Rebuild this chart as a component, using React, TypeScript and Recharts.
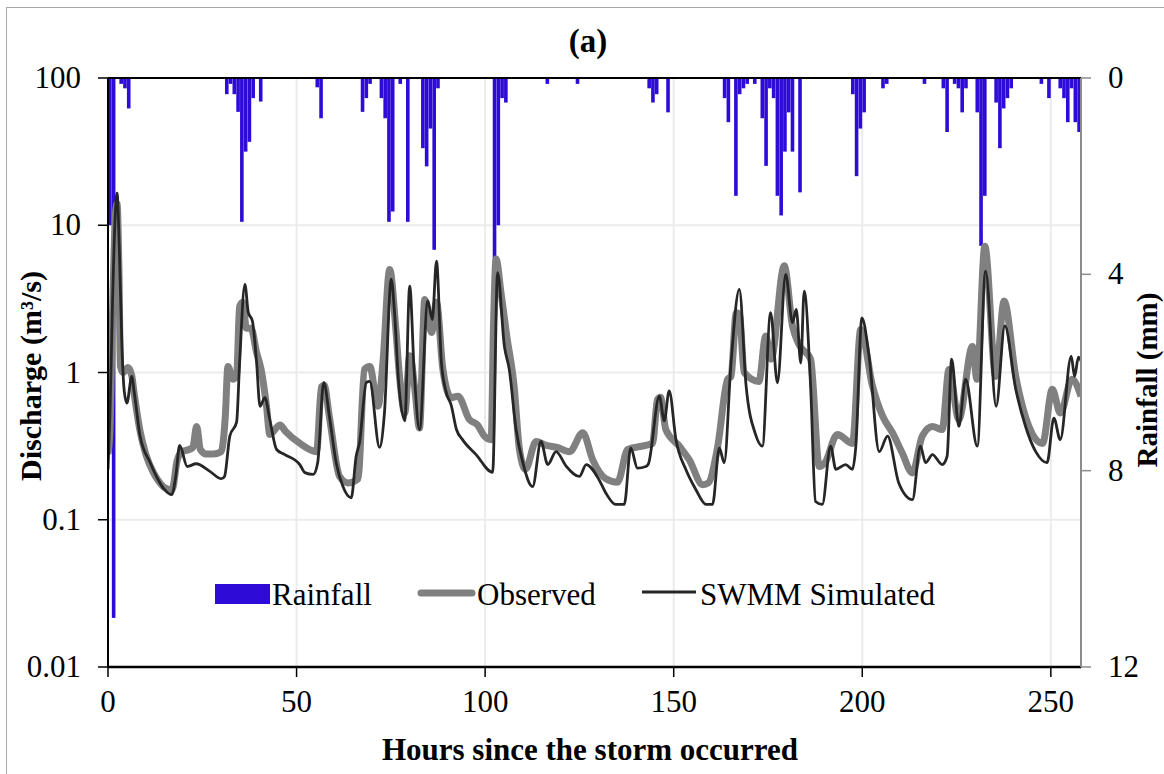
import React from 'react';
import { ComposedChart, Bar, Line, XAxis, YAxis, CartesianGrid, ReferenceLine } from 'recharts';

// Rainfall (mm) per hour interval starting at hour h
const rainHours = [0, 1, 3, 4, 5, 31, 32, 33, 34, 35, 36, 37, 38, 40, 55, 56, 67, 68, 69, 72, 73, 74, 75, 77, 79, 83, 84, 85, 86, 87, 102, 103, 104, 105, 116, 124, 143, 144, 145, 148, 163, 164, 166, 167, 168, 169, 171, 173, 174, 175, 176, 177, 178, 179, 180, 181, 183, 197, 198, 199, 200, 205, 206, 216, 221, 222, 224, 225, 226, 227, 230, 231, 232, 235, 236, 237, 238, 239, 247, 249, 252, 253, 254, 255, 256, 257];
const rainMm = [3.0, 11.0, 0.12, 0.21, 0.62, 0.33, 0.12, 0.33, 0.69, 2.93, 1.5, 1.3, 0.41, 0.48, 0.19, 0.82, 0.69, 0.41, 0.12, 0.41, 0.82, 2.93, 2.72, 0.12, 2.93, 1.43, 1.8, 1.03, 3.5, 0.21, 3.7, 3.0, 0.41, 0.5, 0.12, 0.12, 0.21, 0.5, 0.33, 0.7, 0.41, 0.9, 2.4, 0.33, 0.21, 0.12, 0.12, 0.82, 1.79, 0.21, 0.41, 2.4, 2.8, 1.5, 0.7, 1.5, 2.33, 0.33, 2.0, 1.03, 0.7, 0.21, 0.12, 0.12, 0.21, 1.1, 0.12, 0.21, 0.7, 0.21, 0.7, 3.42, 2.4, 0.5, 1.43, 0.62, 0.41, 0.21, 0.12, 0.41, 0.21, 0.41, 0.9, 0.21, 0.9, 1.1];

// Observed discharge (m3/s)
const obsHours = [0, 0.5, 1.2, 2.0, 2.4, 2.9, 3.3, 4.0, 5.3, 6.3, 7.0, 8.5, 10.0, 12.0, 13.3, 15.1, 17.0, 18.3, 19.5, 21.5, 22.5, 23.5, 24.5, 26.0, 28.0, 30.0, 31.1, 31.8, 33.2, 34.1, 34.9, 35.7, 36.7, 37.9, 39.4, 40.6, 42.0, 42.9, 45.6, 47.0, 50.9, 55.3, 56.6, 57.3, 58.7, 61.4, 63.6, 66.3, 68.0, 69.4, 71.6, 72.9, 74.7, 76.3, 77.3, 78.7, 80.0, 81.3, 82.6, 84.0, 85.8, 87.1, 88.8, 91.0, 92.8, 95.8, 98.0, 99.8, 101.6, 102.2, 102.9, 104.2, 105.7, 107.7, 109.1, 110.7, 113.5, 116.2, 119.1, 122.4, 125.9, 128.5, 132.0, 135.1, 137.8, 142.6, 144.4, 145.7, 146.5, 147.9, 151.5, 154.1, 157.7, 159.2, 161.6, 164.3, 165.2, 166.6, 167.4, 168.7, 172.6, 174.4, 175.8, 179.3, 181.5, 183.2, 186.3, 188.6, 190.1, 193.4, 197.4, 199.6, 202.7, 205.4, 208.0, 210.6, 213.3, 215.9, 218.6, 221.2, 223.0, 225.6, 229.2, 230.4, 232.5, 235.4, 237.6, 240.7, 244.2, 247.8, 250.4, 252.5, 255.6, 258];
const obsQ = [0.28, 0.4, 2.5, 12, 14, 5, 1.1, 1.0, 1.08, 0.95, 0.7, 0.4, 0.28, 0.21, 0.185, 0.165, 0.16, 0.25, 0.29, 0.3, 0.31, 0.43, 0.3, 0.28, 0.28, 0.29, 0.5, 1.1, 0.9, 0.95, 2.8, 3.0, 2.0, 2.0, 1.37, 1.05, 0.6, 0.38, 0.44, 0.4, 0.33, 0.29, 0.8, 0.82, 0.5, 0.197, 0.178, 0.19, 1.05, 1.1, 0.59, 1.17, 5.0, 2.0, 0.94, 0.53, 1.3, 0.8, 0.42, 3.13, 1.87, 3.0, 1.05, 0.675, 0.69, 0.48, 0.44, 0.37, 0.35, 2.0, 5.9, 3.5, 1.8, 0.8, 0.3, 0.22, 0.34, 0.32, 0.31, 0.29, 0.39, 0.256, 0.19, 0.18, 0.3, 0.32, 0.33, 0.655, 0.68, 0.41, 0.316, 0.256, 0.173, 0.178, 0.307, 0.9, 0.94, 2.55, 2.5, 1.0, 0.87, 1.77, 1.23, 5.3, 2.07, 1.55, 1.23, 0.23, 0.244, 0.38, 0.33, 1.96, 0.81, 0.505, 0.39, 0.284, 0.208, 0.37, 0.43, 0.41, 1.05, 0.48, 1.5, 0.9, 7.2, 0.94, 3.06, 0.94, 0.43, 0.33, 0.77, 0.53, 0.9, 0.69];

// SWMM simulated discharge (m3/s)
const simHours = [0, 0.5, 1.2, 2.0, 2.4, 3.0, 3.7, 4.3, 5.0, 6.3, 7.0, 8.5, 11.2, 13.3, 15.0, 16.9, 18.0, 19.0, 21.0, 23.4, 27.0, 30.1, 30.9, 32.3, 34.1, 34.9, 36.3, 37.2, 38.3, 39.4, 40.3, 41.6, 42.9, 44.7, 46.9, 50.9, 52.2, 54.4, 55.6, 57.2, 58.7, 60.5, 62.3, 64.5, 65.8, 66.7, 68.5, 69.4, 72.0, 73.3, 75.1, 76.0, 77.0, 78.7, 80.0, 81.2, 82.6, 84.8, 86.0, 87.1, 88.4, 89.7, 91.0, 92.4, 94.0, 97.6, 102.0, 103.3, 105.1, 106.4, 108.2, 110.0, 112.6, 114.8, 116.6, 118.8, 121.5, 125.0, 126.8, 130.2, 132.0, 134.6, 136.9, 138.6, 140.4, 142.6, 143.3, 146.2, 147.5, 148.8, 150.6, 153.2, 155.9, 158.6, 160.3, 162.1, 163.4, 165.2, 167.4, 169.2, 171.7, 173.5, 175.7, 177.5, 179.7, 181.5, 182.5, 183.7, 184.6, 186.3, 187.6, 189.4, 191.6, 193.0, 195.6, 197.4, 198.3, 199.9, 201.8, 204.5, 206.7, 209.7, 213.3, 215.4, 216.8, 218.6, 221.2, 222.5, 223.7, 225.6, 227.4, 230.5, 232.7, 235.5, 237.8, 240.7, 243.3, 246.0, 249.0, 250.8, 252.5, 255.4, 256.3, 257.3, 258];
const simQ = [0.22, 0.5, 3.0, 13, 16.5, 7, 1.5, 0.75, 0.62, 0.94, 0.72, 0.37, 0.244, 0.187, 0.16, 0.148, 0.2, 0.32, 0.23, 0.24, 0.213, 0.19, 0.197, 0.37, 0.46, 1.17, 3.97, 2.56, 2.23, 1.17, 0.59, 0.675, 0.48, 0.3, 0.277, 0.236, 0.209, 0.203, 0.244, 0.855, 0.505, 0.244, 0.168, 0.141, 0.27, 0.334, 0.855, 0.87, 0.31, 0.53, 4.3, 2.5, 0.9, 0.47, 3.86, 1.0, 0.41, 3.06, 2.29, 5.7, 1.17, 0.73, 0.6, 0.41, 0.35, 0.277, 0.21, 4.76, 1.51, 1.05, 0.41, 0.244, 0.168, 0.34, 0.237, 0.29, 0.231, 0.197, 0.237, 0.187, 0.152, 0.127, 0.127, 0.307, 0.224, 0.23, 0.24, 0.69, 0.47, 0.75, 0.35, 0.22, 0.16, 0.127, 0.127, 0.307, 0.244, 1.16, 3.67, 0.81, 0.38, 0.316, 2.55, 0.85, 4.63, 2.18, 2.68, 1.16, 3.57, 0.81, 0.133, 0.127, 0.316, 0.22, 0.237, 0.22, 0.316, 2.35, 1.29, 0.29, 0.37, 0.177, 0.137, 0.316, 0.244, 0.277, 0.237, 0.27, 1.23, 0.43, 0.9, 0.316, 4.88, 0.59, 2.07, 0.77, 0.43, 0.29, 0.244, 0.49, 0.35, 1.29, 0.94, 1.27, 1.2];

const xTicks = [0, 50, 100, 150, 200, 250];
const qTicks = [0.01, 0.1, 1, 10, 100];
const rainTicks = [0, 4, 8, 12];

const FONT = "'Liberation Serif', 'Times New Roman', serif";
const RAIN_COLOR = '#2e0bd6';
const OBS_COLOR = '#808080';
const SIM_COLOR = '#262626';
const RAIN_BAR_WIDTH = 3.6;

// rainfall bar sits at the middle of its hourly interval
const rainData = rainHours.map((h, i) => ({ h: h + 0.5, rain: rainMm[i] }));
const obsData = obsHours.map((h, i) => ({ h, q: obsQ[i] }));
const simData = simHours.map((h, i) => ({ h, q: simQ[i] }));

// keep the scale-computed x centre / y extent, but force an hourly-wide column
const RainBar = (props: any) => {
  const { x, y, width, height } = props;
  if (x == null || y == null || !height) return null;
  const cx = x + (width || 0) / 2;
  const top = Math.min(y, y + height);
  const h = Math.abs(height);
  return <rect x={cx - RAIN_BAR_WIDTH / 2} y={top} width={RAIN_BAR_WIDTH} height={h} fill={RAIN_COLOR} />;
};

const XTick = (props: any) => {
  const { x, y, payload } = props;
  return (
    <text x={x} y={y + 33} textAnchor="middle" fontFamily={FONT} fontSize={31} fill="#000">
      {payload.value}
    </text>
  );
};

const LeftTick = (props: any) => {
  const { x, y, payload } = props;
  return (
    <text x={x - 15} y={y + 10} textAnchor="end" fontFamily={FONT} fontSize={31} fill="#000">
      {payload.value}
    </text>
  );
};

const RightTick = (props: any) => {
  const { x, y, payload } = props;
  return (
    <text x={x + 15} y={y + 10} textAnchor="start" fontFamily={FONT} fontSize={31} fill="#000">
      {payload.value}
    </text>
  );
};

export default function App() {
  return (
    <div style={{ position: 'absolute', left: 0, top: 0, width: 1164, height: 774, background: '#fff', overflow: 'hidden' }}>
      <div style={{ position: 'absolute', left: 6, top: 7, width: 1200, height: 820, border: '1px solid #a8a8a8', boxSizing: 'border-box' }} />
      <svg width={1164} height={70} style={{ position: 'absolute', left: 0, top: 0 }}>
        <text x={588} y={52} textAnchor="middle" fontFamily={FONT} fontWeight="bold" fontSize={33} fill="#000">(a)</text>
      </svg>
      <div style={{ position: 'absolute', left: 0, top: 0 }}>
        <ComposedChart width={1164} height={774} data={rainData} margin={{ top: 78, right: 0, bottom: 0, left: 0 }}>
          <CartesianGrid yAxisId="q" stroke="#ececec" strokeWidth={2} />
          <XAxis
            dataKey="h"
            type="number"
            domain={[0, 258]}
            ticks={xTicks}
            allowDataOverflow
            height={107}
            tickSize={10}
            tickLine={{ stroke: '#000', strokeWidth: 1.5 }}
            axisLine={{ stroke: '#000', strokeWidth: 2.5 }}
            tick={<XTick />}
            label={() => (
              <text x={590} y={760} textAnchor="middle" fontFamily={FONT} fontWeight="bold" fontSize={31} fill="#000">
                Hours since the storm occurred
              </text>
            )}
          />
          <YAxis
            yAxisId="q"
            scale="log"
            domain={[0.01, 100]}
            ticks={qTicks}
            allowDataOverflow
            width={108}
            tickSize={10}
            tickLine={{ stroke: '#000', strokeWidth: 1.5 }}
            axisLine={{ stroke: '#000', strokeWidth: 2 }}
            tick={<LeftTick />}
            label={() => (
              <text transform="translate(30,376) rotate(-90)" textAnchor="middle" dominantBaseline="central" fontFamily={FONT} fontWeight="bold" fontSize={30} fill="#000">
                Discharge (m³/s)
              </text>
            )}
          />
          <YAxis
            yAxisId="r"
            orientation="right"
            domain={[0, 12]}
            reversed
            ticks={rainTicks}
            allowDataOverflow
            width={83}
            tickSize={10}
            tickLine={{ stroke: '#8c8c8c', strokeWidth: 1.5 }}
            axisLine={{ stroke: '#8c8c8c', strokeWidth: 2 }}
            tick={<RightTick />}
            label={() => (
              <text transform="translate(1147,380) rotate(-90)" textAnchor="middle" dominantBaseline="central" fontFamily={FONT} fontWeight="bold" fontSize={29} fill="#000">
                Rainfall (mm)
              </text>
            )}
          />
          <ReferenceLine yAxisId="q" y={100} stroke="#000" strokeWidth={2} />
          <Bar yAxisId="r" dataKey="rain" name="Rainfall" fill={RAIN_COLOR} barSize={4} shape={<RainBar />} isAnimationActive={false} />
          <Line data={obsData} yAxisId="q" dataKey="q" name="Observed" type="monotone" stroke={OBS_COLOR} strokeWidth={7} dot={false} activeDot={false} strokeLinejoin="round" isAnimationActive={false} />
          <Line data={simData} yAxisId="q" dataKey="q" name="SWMM Simulated" type="monotone" stroke={SIM_COLOR} strokeWidth={2.8} dot={false} activeDot={false} strokeLinejoin="round" isAnimationActive={false} />
        </ComposedChart>
      </div>
      <svg width={1164} height={50} style={{ position: 'absolute', left: 0, top: 570 }}>
        <rect x={215} y={14} width={55} height={20} fill={RAIN_COLOR} />
        <text x={272} y={35} fontFamily={FONT} fontSize={31} fill="#000">Rainfall</text>
        <line x1={421} y1={23} x2={472} y2={23} stroke={OBS_COLOR} strokeWidth={7} strokeLinecap="round" />
        <text x={477} y={35} fontFamily={FONT} fontSize={31} fill="#000">Observed</text>
        <line x1={642} y1={22} x2={696} y2={22} stroke={SIM_COLOR} strokeWidth={3} />
        <text x={700} y={35} fontFamily={FONT} fontSize={31} fill="#000">SWMM Simulated</text>
      </svg>
    </div>
  );
}
